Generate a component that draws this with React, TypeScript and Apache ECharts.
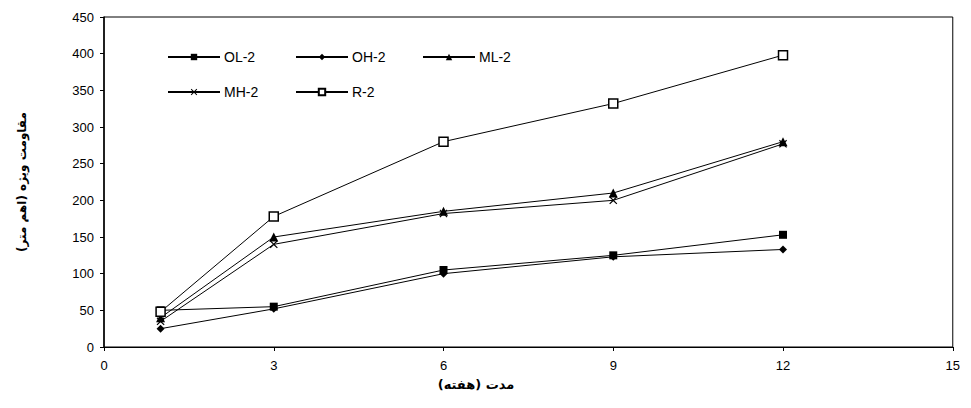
import React, { useEffect, useRef } from "react";
import * as echarts from "echarts";

const weeks = [1, 3, 6, 9, 12];
const seriesNames = ["OL-2", "OH-2", "ML-2", "MH-2", "R-2"];
const olValues = [50, 55, 105, 125, 153];
const ohValues = [25, 52, 100, 123, 133];
const mlValues = [40, 150, 185, 210, 280];
const mhValues = [35, 140, 182, 200, 277];
const rValues = [48, 178, 280, 332, 398];
const xTitle = "مدت (هفته)";
const yTitle = "مقاومت ویژه (اهم متر)";

const crossPath =
  "path://M1,0L5,4L9,0L10,1L6,5L10,9L9,10L5,6L1,10L0,9L4,5L0,1Z";

export default function App() {
  const ref = useRef<HTMLDivElement>(null);
  useEffect(() => {
    if (!ref.current) return;
    const chart = echarts.init(ref.current, null, { renderer: "svg" });
    const valuesList = [olValues, ohValues, mlValues, mhValues, rValues];
    const symbols = ["rect", "diamond", "triangle", crossPath, "rect"];
    const sizes = [8, 8, 9, 8, 9];
    const series = seriesNames.map((name, i) => ({
      name,
      type: "line",
      data: weeks.map((w, j) => [w, valuesList[i][j]]),
      symbol: symbols[i],
      symbolSize: sizes[i],
      showSymbol: true,
      lineStyle: { color: "#000", width: 1 },
      itemStyle:
        i === 4
          ? { color: "#fff", borderColor: "#000", borderWidth: 1.5 }
          : { color: "#000", borderColor: "#000", borderWidth: 0 },
    }));
    const legendPos = [
      { left: 154, top: 37 },
      { left: 282, top: 37 },
      { left: 409, top: 37 },
      { left: 154, top: 72 },
      { left: 282, top: 72 },
    ];
    chart.setOption({
      animation: false,
      backgroundColor: "#fff",
      textStyle: { fontFamily: "Liberation Sans, Arial, sans-serif" },
      grid: {
        left: 96,
        right: 6,
        top: 9,
        bottom: 53,
        show: true,
        borderColor: "#000",
        borderWidth: 1,
        containLabel: false,
      },
      legend: seriesNames.map((n, i) => ({
        data: [n],
        left: legendPos[i].left,
        top: legendPos[i].top,
        itemWidth: 52,
        itemHeight: 8,
        textStyle: {
          color: "#000",
          fontSize: 14,
          fontFamily: "Liberation Sans, Arial, sans-serif",
          padding: [0, 0, 0, -1],
        },
        itemGap: 4,
      })),
      xAxis: {
        type: "value",
        min: 0,
        max: 15,
        interval: 3,
        axisLine: { show: true, lineStyle: { color: "#000", width: 1 } },
        axisTick: { show: true, inside: false, length: 4, lineStyle: { color: "#000" } },
        axisLabel: { color: "#000", fontSize: 13, margin: 12 },
        splitLine: { show: false },
      },
      yAxis: {
        type: "value",
        min: 0,
        max: 450,
        interval: 50,
        axisLine: { show: true, lineStyle: { color: "#000", width: 1.5 } },
        axisTick: { show: true, inside: false, length: 4, lineStyle: { color: "#000" } },
        axisLabel: { color: "#000", fontSize: 13, margin: 10 },
        splitLine: { show: false },
      },
      graphic: [
        {
          type: "text",
          x: 468,
          y: 376,
          style: {
            text: xTitle,
            fill: "#000",
            fontSize: 13,
            fontWeight: "bold",
            fontFamily: "DejaVu Sans, sans-serif",
            align: "center",
            verticalAlign: "middle",
          },
        },
        {
          type: "text",
          x: 14,
          y: 174,
          rotation: Math.PI / 2,
          style: {
            text: yTitle,
            fill: "#000",
            fontSize: 12,
            fontWeight: "bold",
            fontFamily: "DejaVu Sans, sans-serif",
            align: "center",
            verticalAlign: "middle",
          },
        },
      ],
      series,
    });
    return () => chart.dispose();
  }, []);
  return <div ref={ref} style={{ width: 955, height: 392 }} />;
}
